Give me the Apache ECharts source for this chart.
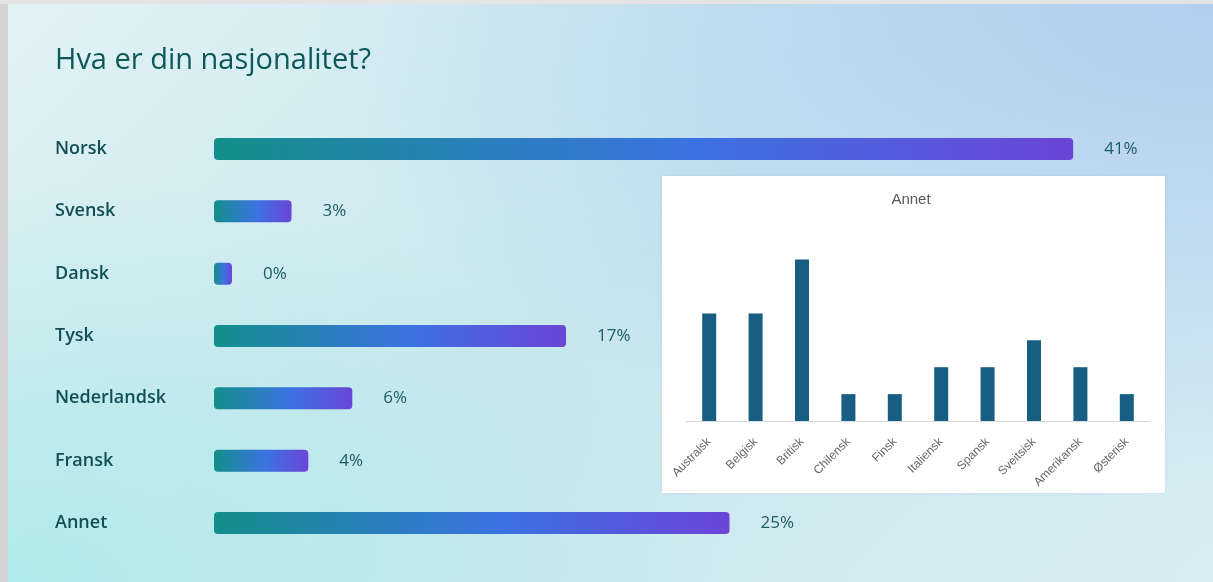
<!DOCTYPE html>
<html>
<head>
<meta charset="utf-8">
<script src="https://cdn.jsdelivr.net/npm/echarts@6/dist/echarts.min.js"></script>
<style>
html,body{margin:0;padding:0;}
#chart{width:1213px;height:582px;
background:
 radial-gradient(ellipse 75% 85% at 100% 0%, rgba(178,205,238,1) 0%, rgba(178,205,238,0) 100%),
 radial-gradient(ellipse 60% 70% at 0% 100%, rgba(176,234,234,1) 0%, rgba(176,234,234,0) 100%),
 linear-gradient(135deg, #e1f2f5 0%, #c8e7ee 50%, #d9edf3 100%);}
</style>
</head>
<body>
<div id="chart"></div>
<script>
// Main question: share of respondents (bar length) and shown labels
var nationalities = ['Norsk', 'Svensk', 'Dansk', 'Tysk', 'Nederlandsk', 'Fransk', 'Annet'];
var shareValues = [41, 3.7, 0, 16.8, 6.6, 4.5, 24.6];
var shareLabels = ['41%', '3%', '0%', '17%', '6%', '4%', '25%'];

// Inset "Annet" breakdown (counts)
var otherCategories = ['Australsk', 'Belgisk', 'Britisk', 'Chilensk', 'Finsk', 'Italiensk', 'Spansk', 'Sveitsisk', 'Amerikansk', 'Østerisk'];
var otherValues = [4, 4, 6, 1, 1, 2, 2, 3, 2, 1];

var chart = echarts.init(document.getElementById('chart'));
var barGradient = new echarts.graphic.LinearGradient(0, 0, 1, 0, [
  {offset: 0, color: '#138f8a'},
  {offset: 0.55, color: '#3b73e1'},
  {offset: 1, color: '#6b45d7'}
]);

chart.setOption({
  backgroundColor: 'transparent',
  animation: false,
  graphic: [
    {type: 'rect', z: 0, shape: {x: 0, y: 0, width: 8, height: 582}, style: {fill: '#d3d3d3'}},
    {type: 'rect', z: 0, shape: {x: 0, y: 0, width: 1213, height: 4}, style: {fill: '#e4e4e4'}},
    {type: 'text', z: 1, x: 55, y: 61,
      style: {text: 'Hva er din nasjonalitet?', fill: '#0d5858', font: '29px "Open Sans"', textVerticalAlign: 'middle'}},
    {type: 'rect', z: 0, shape: {x: 662, y: 176, width: 503, height: 317},
      style: {fill: '#ffffff', shadowBlur: 3, shadowColor: 'rgba(0,0,0,0.08)'}},
    {type: 'text', z: 1, x: 911, y: 200,
      style: {text: 'Annet', fill: '#595959', font: '15px "Liberation Sans"', textAlign: 'center', textVerticalAlign: 'middle'}}
  ],
  grid: [
    {left: 214, right: 56, top: 117.8, bottom: 27.8},
    {left: 686, right: 63, top: 259.6, bottom: 161}
  ],
  xAxis: [
    {gridIndex: 0, type: 'value', min: 0, max: 45, show: false},
    {gridIndex: 1, type: 'category', data: otherCategories,
      axisLine: {lineStyle: {color: '#d9d9d9'}}, axisTick: {show: false},
      axisLabel: {rotate: 45, color: '#666666', fontSize: 12, fontFamily: 'Liberation Sans', margin: 19, interval: 0}}
  ],
  yAxis: [
    {gridIndex: 0, type: 'category', data: nationalities, inverse: true,
      axisLine: {show: false}, axisTick: {show: false},
      axisLabel: {align: 'left', margin: 159, color: '#124f55', fontSize: 18, fontWeight: 600, fontFamily: 'Open Sans'}},
    {gridIndex: 1, type: 'value', min: 0, max: 6, show: false, splitLine: {show: false}}
  ],
  series: [
    {type: 'bar', xAxisIndex: 0, yAxisIndex: 0, data: shareValues, barWidth: 22, barMinHeight: 18,
      itemStyle: {color: barGradient, borderRadius: 4},
      label: {show: true, position: 'right', distance: 31, color: '#1d5c60', fontSize: 17, fontFamily: 'Open Sans',
        formatter: function (p) { return shareLabels[p.dataIndex]; }}},
    {type: 'bar', xAxisIndex: 1, yAxisIndex: 1, data: otherValues, barWidth: 14,
      itemStyle: {color: '#175e82'}}
  ]
});
</script>
</body>
</html>
